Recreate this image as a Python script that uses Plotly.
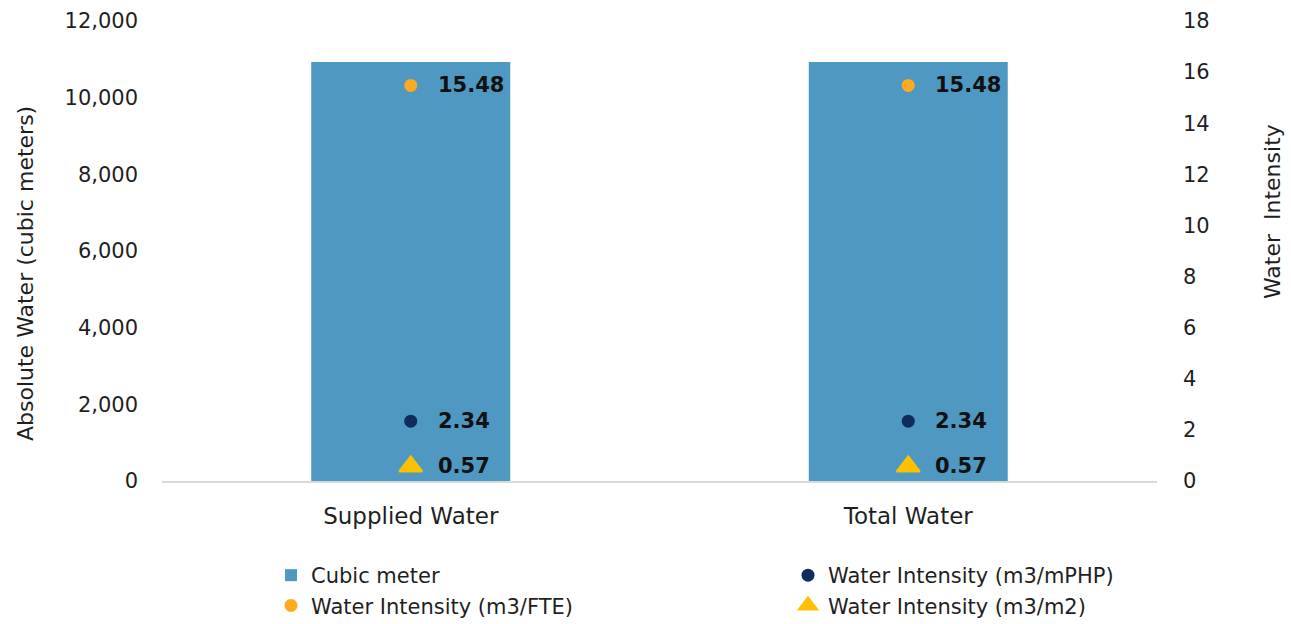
import plotly.graph_objects as go

categories = ["Supplied Water", "Total Water"]
cubic_meter = [10930, 10930]
intensity_mphp = [2.34, 2.34]
intensity_fte = [15.48, 15.48]
intensity_m2 = [0.57, 0.57]

FONT = "DejaVu Sans"
TEXT = "#1f1f1f"
BAR_COLOR = "#4f98c2"
NAVY = "#0e2d5c"
ORANGE = "#ffa91f"
YELLOW = "#ffc000"

fig = go.Figure()
fig.add_trace(go.Bar(
    x=categories, y=cubic_meter, name="Cubic meter",
    marker=dict(color=BAR_COLOR, line=dict(width=0)),
    yaxis="y", legend="legend", legendgroup="a",
))
fig.add_trace(go.Scatter(
    x=categories, y=intensity_mphp, name="Water Intensity (m3/mPHP)",
    mode="markers", marker=dict(color=NAVY, size=13, symbol="circle"),
    yaxis="y2", legend="legend2", legendgroup="b",
))
fig.add_trace(go.Scatter(
    x=categories, y=intensity_fte, name="Water Intensity (m3/FTE)",
    mode="markers", marker=dict(color=ORANGE, size=13, symbol="circle"),
    yaxis="y2", legend="legend", legendgroup="c",
))
fig.add_trace(go.Scatter(
    x=categories, y=intensity_m2, name="Water Intensity (m3/m2)",
    mode="markers",
    marker=dict(color=YELLOW, size=20, symbol="triangle-up",
                line=dict(color=YELLOW, width=2)),
    yaxis="y2", legend="legend2", legendgroup="d",
))

# value labels to the right of each intensity marker
annotations = []
for series in (intensity_mphp, intensity_fte, intensity_m2):
    for cat, val in zip(categories, series):
        annotations.append(dict(
            x=cat, y=val, xref="x", yref="y2", text=f"{val:.2f}",
            showarrow=False, xanchor="left", yanchor="middle", xshift=25,
            font=dict(family=FONT, size=21, color="#111111", weight="bold"),
        ))

# rotated axis titles
annotations.append(dict(
    text="Absolute Water (cubic meters)", textangle=-90,
    xref="paper", yref="paper", x=(25 - 162) / 995, y=(481 - 274) / 460,
    xanchor="center", yanchor="middle", showarrow=False,
    font=dict(family=FONT, size=22, color=TEXT),
))
annotations.append(dict(
    text="Water  Intensity", textangle=-90,
    xref="paper", yref="paper", x=(1272 - 162) / 995, y=(481 - 212) / 460,
    xanchor="center", yanchor="middle", showarrow=False,
    font=dict(family=FONT, size=22, color=TEXT),
))

legend_common = dict(
    orientation="v", xref="container", yref="container",
    xanchor="left", y=1 - 555 / 624, yanchor="top",
    font=dict(family=FONT, size=21, color=TEXT),
    itemsizing="trace", traceorder="normal", tracegroupgap=5,
    bgcolor="rgba(0,0,0,0)",
)

fig.update_layout(
    width=1291, height=624,
    margin=dict(l=162, r=134, t=21, b=143, autoexpand=False),
    paper_bgcolor="white", plot_bgcolor="white",
    font=dict(family=FONT, size=21, color=TEXT),
    bargap=0.6,
    showlegend=True,
    legend=dict(legend_common, x=271 / 1291),
    legend2=dict(legend_common, x=788 / 1291),
    xaxis=dict(
        type="category", showgrid=False, showline=True, linecolor="#d9d9d9",
        linewidth=2, ticks="", tickfont=dict(size=23, color=TEXT),
        ticklabelstandoff=13,
    ),
    yaxis=dict(
        range=[0, 12000], tickvals=[0, 2000, 4000, 6000, 8000, 10000, 12000],
        tickformat=",", showgrid=False, zeroline=False, showline=False,
        ticklabelstandoff=23, tickfont=dict(size=21, color=TEXT),
    ),
    yaxis2=dict(
        overlaying="y", side="right", range=[0, 18], dtick=2,
        showgrid=False, zeroline=False, showline=False,
        ticklabelstandoff=25, tickfont=dict(size=21, color=TEXT),
    ),
    annotations=annotations,
)

fig.write_html("out.html")
